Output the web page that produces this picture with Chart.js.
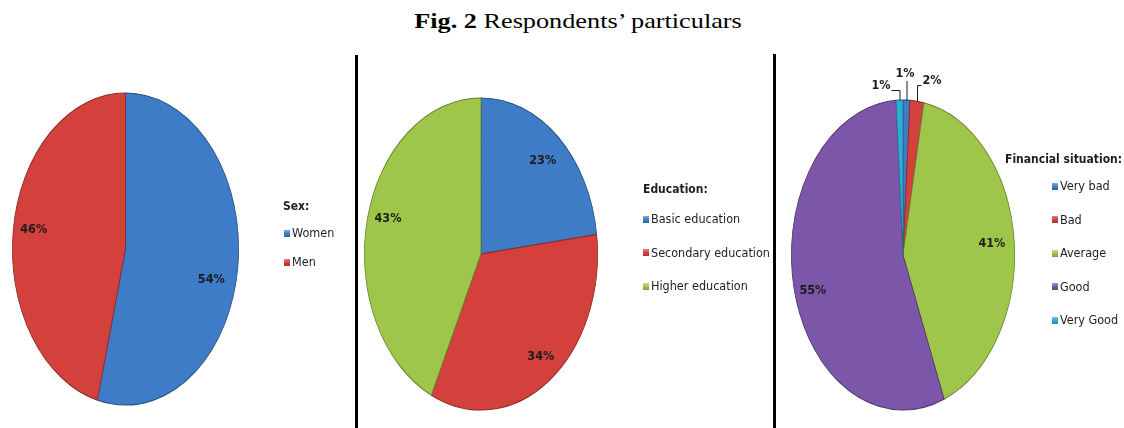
<!DOCTYPE html>
<html>
<head>
<meta charset="utf-8">
<script src="https://cdn.jsdelivr.net/npm/chart.js@4.4.1/dist/chart.umd.min.js"></script>
<style>
html,body{margin:0;padding:0;background:#fff;}
#wrap{position:relative;width:1124px;height:428px;overflow:hidden;background:#fff;}
#wrap canvas{position:absolute;left:0;top:0;}
#title{position:absolute;left:0;width:1156px;top:11px;line-height:20px;text-align:center;font-family:'Liberation Serif','Times New Roman',serif;font-size:21px;color:#000;white-space:nowrap;transform:scaleX(1.25);transform-origin:578px 10px;}
.sep{position:absolute;width:3px;background:#000;}
.lg{position:absolute;font-family:'DejaVu Sans Condensed','DejaVu Sans',sans-serif;color:#1e1e1e;}
.lg .lt{position:absolute;white-space:nowrap;font-weight:bold;font-size:12px;line-height:13px;}
.lg .li{position:absolute;white-space:nowrap;font-size:12.5px;line-height:14px;height:14px;display:flex;align-items:center;}
.lg .sw{display:inline-block;width:6px;height:7px;margin-right:2px;flex:none;}
</style>
</head>
<body>
<div id="wrap">
  <div id="title"><b>Fig. 2</b> Respondents’ particulars</div>
  <canvas id="c1" width="1124" height="428"></canvas>
  <canvas id="c2" width="1124" height="428"></canvas>
  <canvas id="c3" width="1124" height="428"></canvas>
  <div class="sep" style="left:355px;top:55px;height:373px;"></div>
  <div class="sep" style="left:773px;top:54px;height:374px;"></div>
</div>
<script>
// ---- data ----
const sexLabels = ['Women', 'Men'];
const sexValues = [54, 46];
const eduLabels = ['Basic education', 'Secondary education', 'Higher education'];
const eduValues = [23, 34, 43];
const finLabels = ['Very bad', 'Bad', 'Average', 'Good', 'Very Good'];
const finValues = [1, 2, 41, 55, 1];
const legendTitles = ['Sex:', 'Education:', 'Financial situation:'];

// ---- styles ----
const COLORS = {
  blue:   [62, 124, 200],
  red:    [212, 64, 60],
  green:  [158, 198, 74],
  purple: [124, 86, 168],
  cyan:   [48, 172, 212]
};
const sexColors = [COLORS.blue, COLORS.red];
const eduColors = [COLORS.blue, COLORS.red, COLORS.green];
const finColors = [COLORS.blue, COLORS.red, COLORS.green, COLORS.purple, COLORS.cyan];

function mix(c, t, a) { return c.map((v, i) => Math.round(v + (t[i] - v) * a)); }
function rgb(c) { return 'rgb(' + c.join(',') + ')'; }

function gradFill(cols) {
  return function (ctx) {
    const chart = ctx.chart;
    const c = cols[ctx.dataIndex];
    const el = ctx.element;
    if (!chart.chartArea || !el || !el.outerRadius) return rgb(c);
    const x = el.x, y = el.y, r = el.outerRadius;
    const g = chart.ctx.createRadialGradient(x, y - r * 0.15, 0, x, y, r);
    g.addColorStop(0, rgb(mix(c, [255, 255, 255], 0.14)));
    g.addColorStop(0.75, rgb(c));
    g.addColorStop(1, rgb(mix(c, [0, 0, 0], 0.22)));
    return g;
  };
}

const LABEL_FONT = "bold 12.5px 'DejaVu Sans Condensed','DejaVu Sans',sans-serif";

const ellipsePlugin = {
  id: 'ellipsePie',
  beforeDatasetsDraw(chart) {
    const meta = chart.getDatasetMeta(0);
    const el = meta.data[0];
    const a = chart.chartArea;
    const k = (a.height / 2) / el.outerRadius;
    chart.$k = k;
    const ctx = chart.ctx;
    ctx.save();
    ctx.translate(el.x, el.y);
    ctx.scale(1, k);
    ctx.translate(-el.x, -el.y);
  },
  afterDatasetsDraw(chart, args, opts) {
    const ctx = chart.ctx;
    ctx.restore();
    const k = chart.$k;
    const meta = chart.getDatasetMeta(0);
    const values = chart.data.datasets[0].data;
    ctx.save();
    ctx.font = LABEL_FONT;
    ctx.fillStyle = '#1c1c1c';
    ctx.strokeStyle = '#1c1c1c';
    ctx.lineWidth = 1;
    ctx.textAlign = 'center';
    ctx.textBaseline = 'middle';
    meta.data.forEach((arc, i) => {
      const p = arc.getProps(['x', 'y', 'startAngle', 'endAngle', 'outerRadius'], true);
      const mid = (p.startAngle + p.endAngle) / 2;
      const txt = values[i] + '%';
      const ext = opts.outside && opts.outside[i];
      if (!ext) {
        const f = opts.f;
        const nudge = (opts.nudge && opts.nudge[i]) || [0, 0];
        const px = p.x + Math.cos(mid) * p.outerRadius * f + nudge[0];
        const py = p.y + Math.sin(mid) * p.outerRadius * f * k + nudge[1];
        ctx.fillText(txt, px, py);
      } else {
        const ax = p.x + Math.cos(mid) * p.outerRadius;
        const ay = p.y + Math.sin(mid) * p.outerRadius * k;
        const lx = ax + ext.dx, ly = ay + ext.dy;
        ctx.fillText(txt, lx, ly);
        const hw = ctx.measureText(txt).width / 2 + 1;
        ctx.beginPath();
        ctx.moveTo(ax + 0.5, ay);
        if (Math.abs(ext.dx) > hw) {
          const ey = Math.round(ly + 4) + 0.5;
          ctx.lineTo(ax + 0.5, ey);
          ctx.lineTo(lx + (ext.dx > 0 ? -hw : hw), ey);
        } else {
          ctx.lineTo(ax + 0.5, ly + 7);
        }
        ctx.stroke();
      }
    });
    ctx.restore();
  }
};

function makePie(id, labels, values, cols, pad, labelOpts) {
  return new Chart(document.getElementById(id), {
    type: 'pie',
    data: {
      labels: labels,
      datasets: [{
        data: values,
        backgroundColor: gradFill(cols),
        borderColor: cols.map(c => rgb(mix(c, [0, 0, 0], 0.35))),
        borderWidth: 0.8,
        clip: false
      }]
    },
    options: {
      responsive: false,
      animation: false,
      events: [],
      layout: { padding: pad },
      plugins: {
        legend: { display: false },
        tooltip: { enabled: false },
        ellipsePie: labelOpts
      }
    },
    plugins: [ellipsePlugin]
  });
}

makePie('c1', sexLabels, sexValues, sexColors,
  { left: 12, right: 885, top: 93, bottom: 23 },
  { f: 0.8, nudge: { 0: [-4, 15], 1: [-2, -4] } });
makePie('c2', eduLabels, eduValues, eduColors,
  { left: 364, right: 526, top: 98, bottom: 18 },
  { f: 0.8, nudge: { 1: [5, 2], 2: [-2, -8] } });
makePie('c3', finLabels, finValues, finColors,
  { left: 791, right: 109, top: 100, bottom: 18 },
  { f: 0.8, nudge: { 3: [-3, 9] },
    outside: { 0: { dx: -1.5, dy: -26 }, 1: { dx: 15, dy: -20 }, 4: { dx: -18.5, dy: -14 } } });

// ---- legends (HTML, generated from the label arrays) ----
const legendLayout = [
  { titleX: 283, titleY: 206, itemX: 284, firstY: 233, step: 29 },
  { titleX: 643, titleY: 189, itemX: 643, firstY: 219, step: 33.5 },
  { titleX: 1005, titleY: 159, itemX: 1052, firstY: 186, step: 33.5 }
];
const legendData = [
  [sexLabels, sexColors],
  [eduLabels, eduColors],
  [finLabels, finColors]
];
const wrap = document.getElementById('wrap');
legendData.forEach(([labs, cols], n) => {
  const L = legendLayout[n];
  const box = document.createElement('div');
  box.className = 'lg';
  const t = document.createElement('div');
  t.className = 'lt';
  t.textContent = legendTitles[n];
  t.style.left = L.titleX + 'px';
  t.style.top = (L.titleY - 6.5) + 'px';
  box.appendChild(t);
  labs.forEach((lab, i) => {
    const it = document.createElement('div');
    it.className = 'li';
    it.style.left = L.itemX + 'px';
    it.style.top = (L.firstY + i * L.step - 7) + 'px';
    const sw = document.createElement('span');
    sw.className = 'sw';
    const c = cols[i];
    sw.style.background = 'linear-gradient(' + rgb(mix(c, [255,255,255], 0.35)) + ',' + rgb(c) + ' 50%,' + rgb(mix(c, [0,0,0], 0.2)) + ')';
    it.appendChild(sw);
    const s = document.createElement('span');
    s.textContent = lab;
    it.appendChild(s);
    box.appendChild(it);
  });
  wrap.appendChild(box);
});
</script>
</body>
</html>
